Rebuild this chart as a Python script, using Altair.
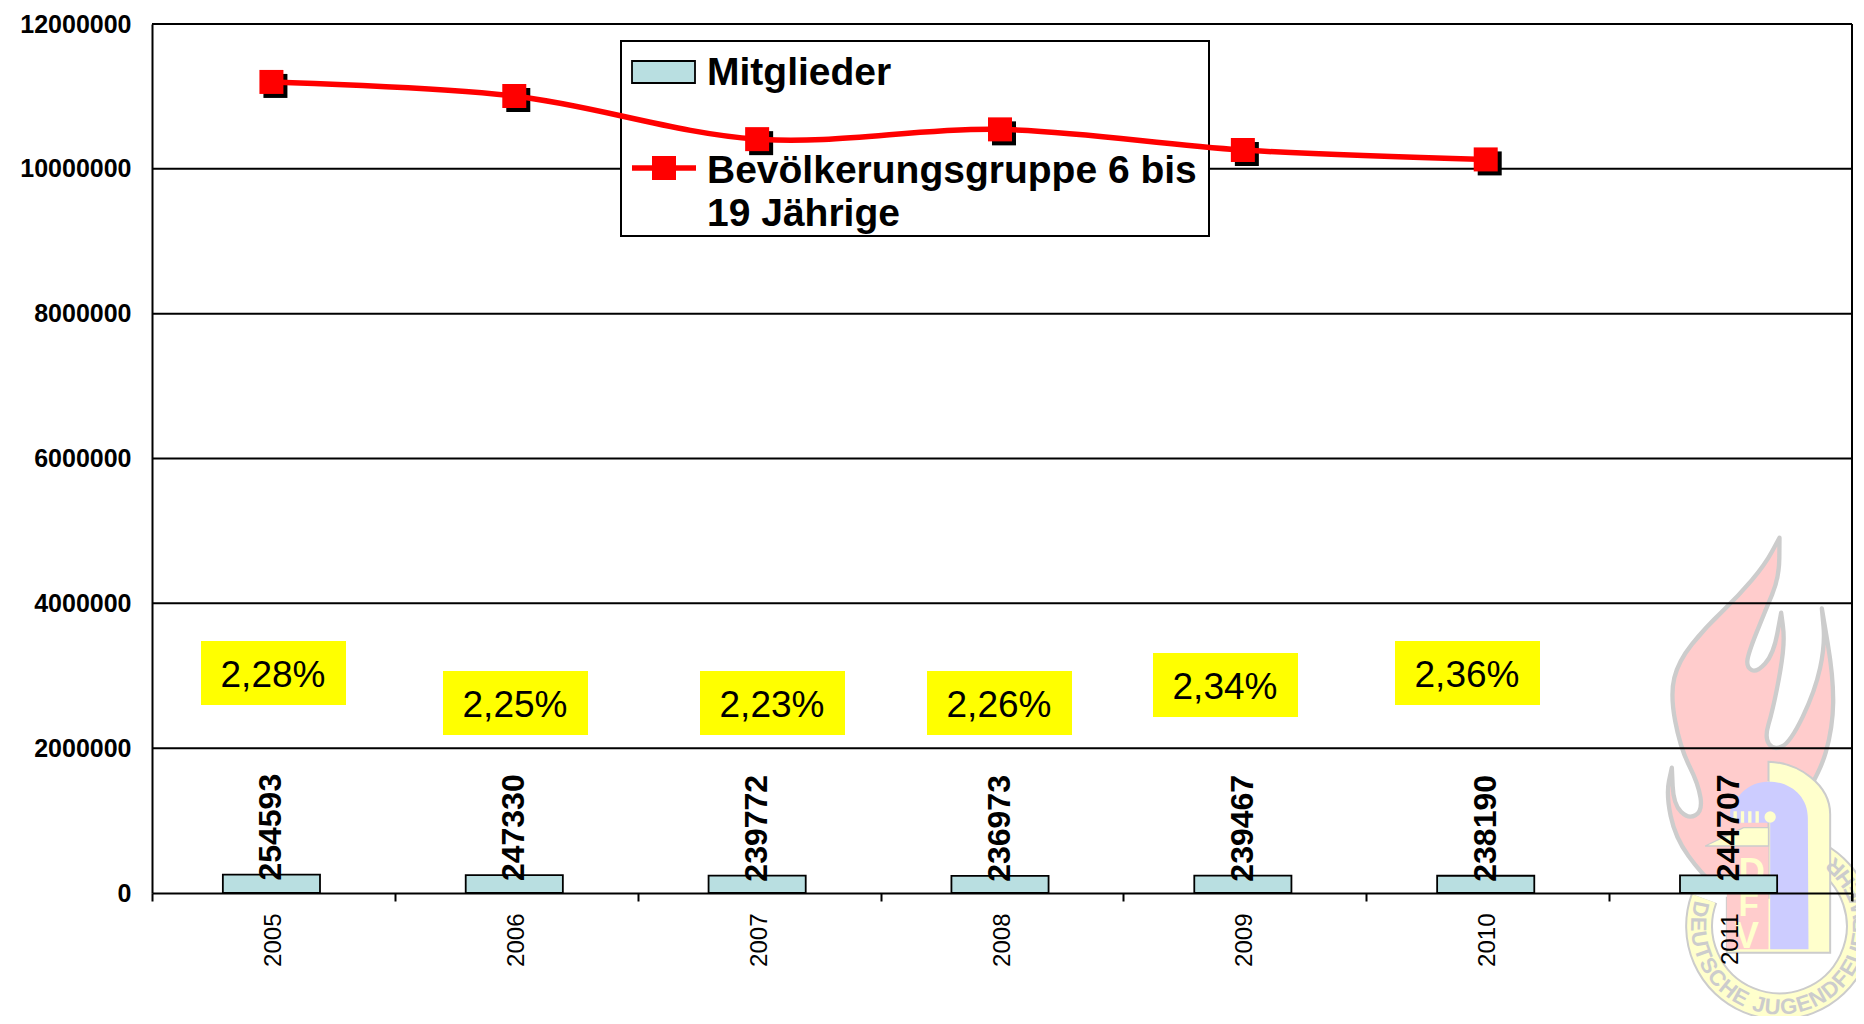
import base64
import math
import altair as alt
import pandas as pd

# ---------- chart values ----------
years = ["2005", "2006", "2007", "2008", "2009", "2010", "2011"]
members = [254593, 247330, 239772, 236973, 239467, 238190, 244707]
population_years = ["2005", "2006", "2007", "2008", "2009", "2010"]
population = [11200000, 11006000, 10410000, 10545000, 10260000, 10130000]
pct_labels = ["2,28%", "2,25%", "2,23%", "2,26%", "2,34%", "2,36%"]
y_ticks = [0, 2000000, 4000000, 6000000, 8000000, 10000000, 12000000]
legend_member = "Mitglieder"
legend_pop_lines = ["Bevölkerungsgruppe 6 bis", "19 Jährige"]

# ---------- layout (page pixels) ----------
PLOT_L, PLOT_T, PLOT_W, PLOT_H = 152, 24, 1700, 869
FONT = "Liberation Sans"
BAR_FILL = "#B9DFE1"
RED = "#FF0000"
px = lambda v: alt.value(v - PLOT_L)
py = lambda v: alt.value(v - PLOT_T)
pct_boxes = [(201, 641), (443, 671), (700, 671), (927, 671), (1153, 653), (1395, 641)]

one = alt.Data(values=[{"a": 1}])

# ---------- watermark logo (inline SVG, drawn in its own 1092x1512 space) ----------
def smooth(points):
    mids = [((points[i][0] + points[(i + 1) % len(points)][0]) / 2,
             (points[i][1] + points[(i + 1) % len(points)][1]) / 2) for i in range(len(points))]
    d = f"M{mids[-1][0]} {mids[-1][1]} "
    for p, m in zip(points, mids):
        d += f"Q{p[0]} {p[1]} {m[0]} {m[1]} "
    return d + "Z"

def arc(r, start_deg, end_deg, cx=843, cy=1215):
    """Arc through the bottom of the ring, counter-clockwise on screen."""
    sx = cx + r * math.cos(math.radians(start_deg))
    sy = cy + r * math.sin(math.radians(start_deg))
    ex = cx + r * math.cos(math.radians(end_deg))
    ey = cy + r * math.sin(math.radians(end_deg))
    return f"M{sx:.1f} {sy:.1f} A{r} {r} 0 1 0 {ex:.1f} {ey:.1f}"

flame = [(843, 50), (843, 50), (842, 170), (800, 270), (748, 400), (745, 440), (775, 455), (825, 400),
         (848, 275), (848, 275), (858, 350), (848, 440), (822, 570), (798, 650), (825, 688), (875, 665),
         (950, 510), (980, 370), (970, 262), (970, 262), (1005, 470), (1003, 620), (960, 770), (800, 1000),
         (690, 1130), (610, 1060), (530, 950), (503, 820), (520, 740), (520, 740), (525, 850), (570, 895),
         (612, 870), (600, 790), (545, 680), (515, 520), (540, 420), (620, 320), (720, 225), (800, 130)]

svg = f"""<svg xmlns="http://www.w3.org/2000/svg" xmlns:xlink="http://www.w3.org/1999/xlink" viewBox="0 0 1092 1512" width="364" height="504">
<path d="{smooth(flame)}" fill="#FFCCCC" stroke="#CCCCCC" stroke-width="13" stroke-linejoin="round"/>
<path d="{arc(241, 200, -62)}" fill="none" stroke="#CCCCCC" stroke-width="84"/>
<path d="{arc(241, 200, -62)}" fill="none" stroke="#FFFFCC" stroke-width="72"/>
<path d="M810 722 C900 725 995 790 995 880 L995 1295 L685 1295 L685 1130 L810 1130 Z" fill="#FFFFCC" stroke="#CCCCCC" stroke-width="6"/>
<path d="M810 722 L810 780 L700 850 L700 880 L810 880 Z" fill="#FFFFCC"/>
<path d="M685 925 L810 925 L810 1285 L685 1285 Z" fill="#FFCCCC"/>
<path d="M620 975 L735 920 L810 920 L810 975 Z" fill="#FFFFCC" stroke="#CCCCCC" stroke-width="4"/>
<path d="M695 870 C720 810 760 782 810 782 C880 782 928 830 928 890 L930 1285 L815 1285 L815 905 L695 905 Z" fill="#CCCCFF"/>
<path d="M705 888 L790 888" fill="none" stroke="#FFFFCC" stroke-width="34" stroke-dasharray="10 12"/>
<circle cx="815" cy="888" r="17" fill="#FFFFCC"/>
<text x="720" y="1090" font-family="Liberation Sans" font-weight="bold" font-size="110" fill="#FFFFCC">D</text>
<text x="720" y="1185" font-family="Liberation Sans" font-weight="bold" font-size="100" fill="#FFFFCC">F</text>
<text x="708" y="1280" font-family="Liberation Sans" font-weight="bold" font-size="110" fill="#FFFFCC">V</text>
<path id="r" d="{arc(265, 197, -62)}" fill="none"/>
<text font-family="Liberation Sans" font-weight="bold" font-size="66" fill="#CCCCCC" letter-spacing="3"><textPath xlink:href="#r" href="#r">DEUTSCHE JUGENDFEUERWEHR</textPath></text>
</svg>"""
logo_url = "data:image/svg+xml;base64," + base64.b64encode(svg.encode("utf-8")).decode("ascii")

# ---------- scales / axes ----------
x_scale = alt.Scale(domain=years, paddingInner=0, paddingOuter=0)
y_scale = alt.Scale(domain=[0, 12000000], nice=False)
x_enc = alt.X("year:N", scale=x_scale, title=None, sort=None, axis=alt.Axis(
    labelAngle=270, labelAlign="right", labelBaseline="middle", labelFont=FONT, labelFontSize=24,
    labelColor="black", labelPadding=12, tickBand="extent", tickSize=8, tickWidth=2, tickColor="black",
    domainColor="black", domainWidth=2, grid=False, zindex=1))
y_enc = alt.Y("value:Q", scale=y_scale, title=None, axis=alt.Axis(
    values=y_ticks, format="d", labelFont=FONT, labelFontSize=25, labelFontWeight="bold",
    labelColor="black", labelPadding=21, tickSize=0, domainColor="black", domainWidth=2, grid=False, zindex=1))

bar_df = pd.DataFrame({"year": years, "value": members})
line_df = pd.DataFrame({"year": population_years, "value": population})
grid_df = pd.DataFrame({"value": y_ticks[1:]})

logo = alt.Chart(one).mark_image(url=logo_url, width=364, height=504, align="left", baseline="top").encode(
    x=px(1498.5), y=py(521))
grid = alt.Chart(grid_df).mark_rule(color="black", strokeWidth=2).encode(y=y_enc)
right_edge = alt.Chart(one).mark_rule(color="black", strokeWidth=2).encode(
    x=px(1852), y=py(24), y2=py(901))

bars = alt.Chart(bar_df).mark_bar(
    width=alt.RelativeBandSize(band=0.4), fill=BAR_FILL, stroke="black", strokeWidth=1.8, xOffset=-2
).encode(x=x_enc, y=y_enc)
bar_text = alt.Chart(bar_df).mark_text(
    angle=270, align="left", baseline="middle", dx=-6, dy=-2, font=FONT, fontSize=32, fontWeight="bold", color="black"
).encode(x=x_enc, y=y_enc, text=alt.Text("value:Q", format="d"))

legend_box = alt.Chart(one).mark_rect(fill="white", stroke="black", strokeWidth=2).encode(
    x=px(621), x2=px(1209), y=py(41), y2=py(236))

shadow = alt.Chart(line_df).mark_square(size=576, color="black", opacity=1, strokeWidth=0, xOffset=2, yOffset=4).encode(
    x=x_enc, y=y_enc)
line = alt.Chart(line_df).mark_line(color=RED, strokeWidth=5.5, interpolate="catmull-rom", xOffset=-2).encode(x=x_enc, y=y_enc)
points = alt.Chart(line_df).mark_square(size=576, color=RED, opacity=1, strokeWidth=0, xOffset=-2).encode(x=x_enc, y=y_enc)

legend_parts = [
    alt.Chart(one).mark_rect(fill=BAR_FILL, stroke="black", strokeWidth=1.8).encode(
        x=px(632), x2=px(695), y=py(61), y2=py(83)),
    alt.Chart(one).mark_rule(color=RED, strokeWidth=5.5).encode(x=px(632), x2=px(696), y=py(168)),
    alt.Chart(one).mark_rect(fill=RED).encode(x=px(652), x2=px(676), y=py(156), y2=py(180)),
]
for txt, base in [(legend_member, 85), (legend_pop_lines[0], 183), (legend_pop_lines[1], 226)]:
    legend_parts.append(
        alt.Chart(one).mark_text(align="left", baseline="alphabetic", font=FONT, fontSize=39, fontWeight="bold",
                                 color="black", text=txt).encode(x=px(707), y=py(base)))

pct_parts = []
for lab, (bx, by) in zip(pct_labels, pct_boxes):
    pct_parts.append(alt.Chart(one).mark_rect(fill="#FFFF00").encode(
        x=px(bx), x2=px(bx + 145), y=py(by), y2=py(by + 64)))
    pct_parts.append(alt.Chart(one).mark_text(align="center", baseline="alphabetic", font=FONT, fontSize=37,
                                              color="black", text=lab).encode(x=px(bx + 72), y=py(by + 46)))

chart = alt.layer(
    logo, grid, right_edge, bars, *pct_parts, legend_box, shadow, line, points, bar_text, *legend_parts
).properties(
    width=PLOT_W, height=PLOT_H,
    autosize=alt.AutoSizeParams(type="none"),
    padding={"left": 144, "top": 16, "right": 4, "bottom": 123},
    background="white",
).configure_view(stroke=None)

chart.save("out.html", embed_options={"renderer": "svg", "actions": False})
